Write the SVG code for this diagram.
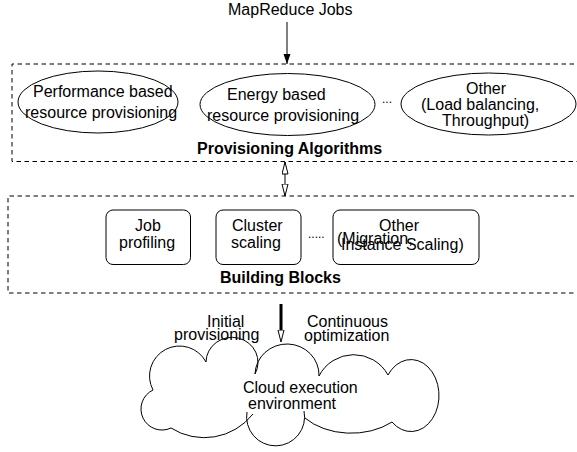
<svg xmlns="http://www.w3.org/2000/svg" width="577" height="452" viewBox="0 0 577 452">
<style>
text{font-family:"Liberation Sans",Arial,sans-serif;font-size:16px;fill:#000}
.b{font-weight:bold}
.dash{fill:none;stroke:#000;stroke-width:1;stroke-dasharray:4.5 3.5}
.sh{fill:#fff;stroke:#000;stroke-width:1}
.ln{fill:none;stroke:#000;stroke-width:1}
</style>
<defs>
<marker id="fa" markerUnits="userSpaceOnUse" markerWidth="10" markerHeight="8" refX="10" refY="3.5" orient="auto"><path d="M0,0 L10,3.5 L0,7 z" fill="#000"/></marker>
<marker id="oa" markerUnits="userSpaceOnUse" markerWidth="14" markerHeight="9" refX="12.5" refY="3.5" orient="auto-start-reverse"><path d="M0.5,0.5 L12.5,3.5 L0.5,6.5 z" fill="#fff" stroke="#000" stroke-width="1"/></marker>
</defs>

<g id="input"><text x="228" y="15">MapReduce Jobs</text></g>

<g id="provisioning-algorithms">
<path class="dash" d="M590,64 H12 V161.5 H590"/>
<text class="b" x="197" y="154">Provisioning Algorithms</text>
<text x="382" y="103" style="font-size:12px">...</text>
</g>
<g id="perf"><ellipse class="sh" cx="98" cy="102" rx="80" ry="31"/><text x="33" y="97">Performance based</text><text x="25" y="118">resource provisioning</text></g>
<g id="energy"><ellipse class="sh" cx="287.5" cy="104.5" rx="87.5" ry="31"/><text x="227" y="100">Energy based</text><text x="207" y="120.5">resource provisioning</text></g>
<g id="other-alg"><ellipse class="sh" cx="488.5" cy="104" rx="87.5" ry="31"/><text x="466" y="94">Other</text><text x="421" y="110">(Load balancing,</text><text x="442" y="125.5">Throughput)</text></g>

<g id="building-blocks">
<path class="dash" d="M590,196 H8 V293 H590"/>
<text class="b" x="220" y="283">Building Blocks</text>
<text x="308" y="237.5" style="font-size:12px">.....</text>
</g>
<g id="job"><rect class="sh" x="106" y="210" width="84.5" height="54.5" rx="7"/><text x="135" y="230.5">Job</text><text x="119" y="248">profiling</text></g>
<g id="cluster"><rect class="sh" x="216" y="210" width="85" height="54.5" rx="7"/><text x="232" y="230.5">Cluster</text><text x="231" y="248">scaling</text></g>
<g id="other-bb"><rect class="sh" x="333" y="210" width="146" height="54.5" rx="7"/><text x="379" y="230.5">Other</text><text x="337" y="244">(Migration,</text><text x="341" y="250">Instance Scaling)</text></g>

<g id="cloud">
<path class="ln" d="M153,390 A29,29 0 1,1 206,362 A26,25 0 1,1 255,374 A32,31 0 0,1 319,376 A39,39 0 0,1 388,375 A28,36 0 1,1 392,422 A60,42 0 0,1 305,418"/>
<path class="ln" d="M304,411 A29,29 0 1,1 247,412"/>
<path class="ln" d="M253,414 A62,62 0 0,1 171,428 A21,21 0 0,1 153,390"/>
<text x="243" y="393">Cloud execution</text>
<text x="248" y="409">environment</text>
</g>

<g id="connectors">
<line class="ln" x1="287" y1="22" x2="287" y2="64" marker-end="url(#fa)"/>
<line class="ln" x1="285" y1="162" x2="285" y2="196" marker-start="url(#oa)" marker-end="url(#oa)"/>
<line x1="281" y1="304" x2="281" y2="333" stroke="#000" stroke-width="3"/>
<line x1="281" y1="328" x2="281" y2="342" stroke="none" marker-end="url(#oa)"/>
<text x="207" y="327">Initial</text>
<text x="174" y="340">provisioning</text>
<text x="307" y="327">Continuous</text>
<text x="304" y="341">optimization</text>
</g>
</svg>
